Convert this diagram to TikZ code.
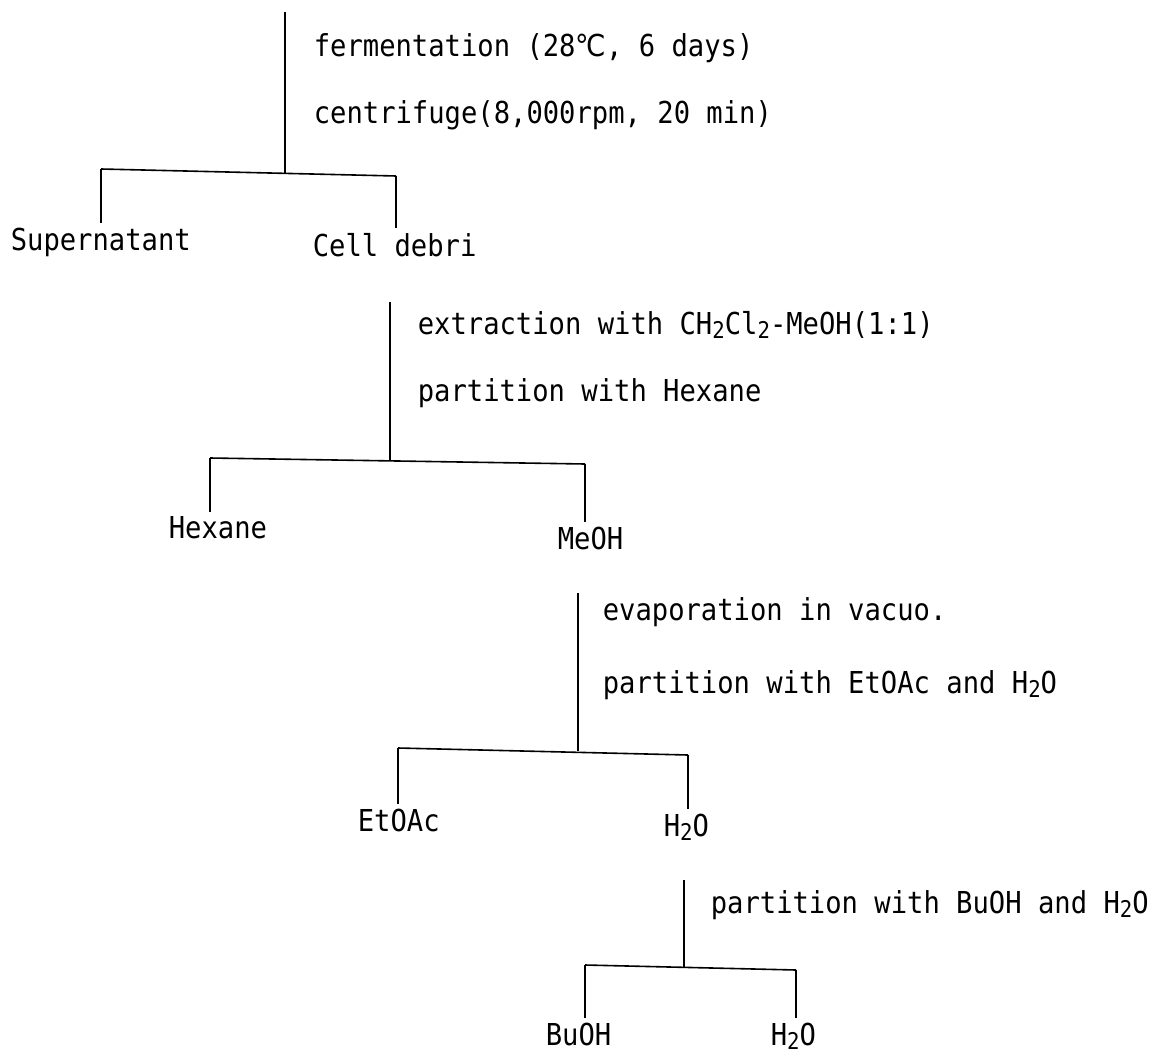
\documentclass[tikz,border=0pt]{standalone}
\usepackage{fontspec}
\setmainfont{DejaVu Sans Mono}[FakeStretch=0.9]
\newfontfamily\symfnt{DejaVu Sans}[FakeStretch=0.9]
\newcommand{\subtwo}{\raisebox{-0.25ex}{\fontsize{23}{23}\selectfont 2}}
\begin{document}
\begin{tikzpicture}[x=1pt,y=-1pt,line width=1.6pt,
  lbl/.style={inner sep=0pt,anchor=west,font=\fontsize{30.2}{32}\selectfont},
  conn/.style={line width=1.6pt},
  drop/.style={line width=1.6pt,shorten >=4pt}]
\useasboundingbox (0,0) rectangle (1153,1057);
% ---------- tree 1
\node[lbl] (s1a) at (313,48) {fermentation (28{\symfnt ℃}, 6 days)};
\node[lbl] (s1b) at (313,115) {centrifuge(8,000rpm, 20 min)};
\node[lbl] (sup) at (10,242) {Supernatant};
\node[lbl] (cell) at (312,245) {Cell debri};
\coordinate (t1) at (285,12);
\coordinate (j1) at (285,173);
\coordinate (l1) at (101,169);
\coordinate (r1) at (396,176);
\draw[conn] (t1) -- (j1);
\draw[conn] (l1) -- (r1);
\draw[drop] (l1) -- (sup.north -| l1);
\draw[drop] (r1) -- (cell.north -| r1);
% ---------- tree 2
\node[lbl] (s2a) at (417,325) {extraction with CH\subtwo Cl\subtwo-MeOH(1:1)};
\node[lbl] (s2b) at (417,393) {partition with Hexane};
\node[lbl] (hex) at (168,528) {Hexane};
\node[lbl] (meoh) at (557,538) {MeOH};
\coordinate (t2) at (390,302);
\coordinate (j2) at (390,461);
\coordinate (l2) at (210,458);
\coordinate (r2) at (585,464);
\draw[conn] (t2) -- (j2);
\draw[conn] (l2) -- (r2);
\draw[drop] (l2) -- (hex.north -| l2);
\draw[drop] (r2) -- (meoh.north -| r2);
% ---------- tree 3
\node[lbl] (s3a) at (602,612) {evaporation in vacuo.};
\node[lbl] (s3b) at (602,685) {partition with EtOAc and H\subtwo O};
\node[lbl] (etoac) at (357,820) {EtOAc};
\node[lbl] (wat1) at (663,827) {H\subtwo O};
\coordinate (t3) at (578,593);
\coordinate (j3) at (578,751);
\coordinate (l3) at (398,748);
\coordinate (r3) at (688,755);
\draw[conn] (t3) -- (j3);
\draw[conn] (l3) -- (r3);
\draw[drop] (l3) -- (etoac.north -| l3);
\draw[drop] (r3) -- (wat1.north -| r3);
% ---------- tree 4
\node[lbl] (s4a) at (710,905) {partition with BuOH and H\subtwo O};
\node[lbl] (buoh) at (545,1034) {BuOH};
\node[lbl] (wat2) at (770,1036) {H\subtwo O};
\coordinate (t4) at (684,880);
\coordinate (j4) at (684,967);
\coordinate (l4) at (585,965);
\coordinate (r4) at (796,970);
\draw[conn] (t4) -- (j4);
\draw[conn] (l4) -- (r4);
\draw[drop] (l4) -- (buoh.north -| l4);
\draw[drop] (r4) -- (wat2.north -| r4);
\end{tikzpicture}
\end{document}
